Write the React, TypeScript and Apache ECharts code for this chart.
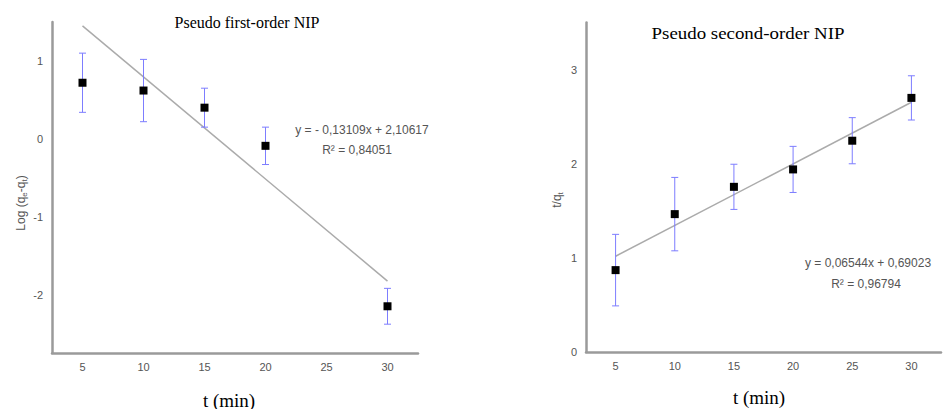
import React, { useEffect, useRef } from "react";
import * as echarts from "echarts";

// Pseudo first-order: log(qe - qt) vs time
const times1 = [5, 10, 15, 20, 30];
const logQ = [0.72, 0.62, 0.4, -0.09, -2.15];
const logErr = [0.38, 0.4, 0.25, 0.24, 0.23];
const fit1 = { slope: -0.13109, intercept: 2.10617, r2: "0,84051" };

// Pseudo second-order: t/qt vs time
const times2 = [5, 10, 15, 20, 25, 30];
const tq = [0.87, 1.465, 1.755, 1.94, 2.245, 2.7];
const tqErr = [0.38, 0.39, 0.24, 0.245, 0.245, 0.235];
const fit2 = { slope: 0.06544, intercept: 0.69023, r2: "0,96794" };

const fitRange = [5, 30];

const AXIS_GREY = "#9a9a9a";
const LABEL_GREY = "#555";
const ERR_BLUE = "#7d7dff";
const SANS = "Liberation Sans, Arial, sans-serif";
const SERIF = "Liberation Serif, Times New Roman, serif";

const fitLine = (f: { slope: number; intercept: number }) =>
  fitRange.map((x) => [x, f.slope * x + f.intercept]);

const errorData = (xs: number[], ys: number[], es: number[]) =>
  xs.map((x, i) => [x, ys[i] - es[i], ys[i] + es[i]]);

const renderError = (params: any, api: any) => {
  const x = api.value(0);
  const lo = api.coord([x, api.value(1)]);
  const hi = api.coord([x, api.value(2)]);
  const cap = 3.5;
  const style = { stroke: ERR_BLUE, lineWidth: 1, fill: "none" };
  return {
    type: "group",
    children: [
      { type: "line", shape: { x1: lo[0], y1: lo[1], x2: hi[0], y2: hi[1] }, style },
      { type: "line", shape: { x1: lo[0] - cap, y1: lo[1], x2: lo[0] + cap, y2: lo[1] }, style },
      { type: "line", shape: { x1: hi[0] - cap, y1: hi[1], x2: hi[0] + cap, y2: hi[1] }, style },
    ],
  };
};

const xAxisBase = (gridIndex: number) => ({
  type: "value",
  gridIndex,
  min: 2.5,
  max: 32.5,
  interval: 2.5,
  axisLine: { show: true, onZero: false, lineStyle: { color: AXIS_GREY, width: 2.5 } },
  axisTick: { show: false },
  splitLine: { show: false },
  axisLabel: {
    color: LABEL_GREY,
    fontFamily: SANS,
    fontSize: 11,
    margin: 8,
    formatter: (v: number) => (Math.abs(v % 5) < 1e-9 ? String(v) : ""),
  },
});

const yAxisBase = (gridIndex: number, min: number, max: number) => ({
  type: "value",
  gridIndex,
  min,
  max,
  interval: 0.25,
  axisLine: { show: true, onZero: false, lineStyle: { color: AXIS_GREY, width: 2.5 } },
  axisTick: { show: false },
  splitLine: { show: false },
  axisLabel: {
    color: LABEL_GREY,
    fontFamily: SANS,
    fontSize: 11,
    margin: 9,
    formatter: (v: number) => (Math.abs(v - Math.round(v)) < 1e-9 ? String(Math.round(v)) : ""),
  },
});

const text = (x: number, y: number, t: string, font: any, scaleX = 1) => ({
  type: "text",
  x,
  y,
  scaleX,
  style: { text: t, textAlign: "center", textVerticalAlign: "middle", ...font },
});

const eqFont = { fill: LABEL_GREY, fontFamily: SANS, fontSize: 12 };
const titleFont = { fill: "#000", fontFamily: SERIF, fontSize: 16 };
const xNameFont = { fill: "#000", fontFamily: SERIF, fontSize: 19 };

const subRich = {
  a: { fontFamily: SANS, fontSize: 12, fill: LABEL_GREY, lineHeight: 14, verticalAlign: "middle" },
  s: { fontFamily: SANS, fontSize: 8, fill: LABEL_GREY, lineHeight: 8, verticalAlign: "bottom" },
};

const fmt = (v: number) => v.toFixed(5).replace(".", ",");

const markerStyle = { color: "#000", opacity: 1 };

export default function App() {
  const ref = useRef<HTMLDivElement>(null);

  useEffect(() => {
    document.body.style.margin = "0";
    if (!ref.current) return;
    const chart = echarts.init(ref.current, undefined, { renderer: "svg" });

    const eq1 = `y = - ${fmt(Math.abs(fit1.slope))}x + ${fmt(fit1.intercept)}`;
    const eq2 = `y = ${fmt(fit2.slope)}x + ${fmt(fit2.intercept)}`;

    chart.setOption({
      animation: false,
      backgroundColor: "#fff",
      grid: [
        { left: 52, top: 22, width: 366, height: 331 },
        { left: 586, top: 22.6, width: 366.6, height: 329.4 },
      ],
      xAxis: [xAxisBase(0), xAxisBase(1)],
      yAxis: [yAxisBase(0, -2.75, 1.5), yAxisBase(1, 0, 3.5)],
      series: [
        {
          type: "line",
          xAxisIndex: 0,
          yAxisIndex: 0,
          data: fitLine(fit1),
          showSymbol: false,
          lineStyle: { color: "#ababab", width: 1.5 },
          z: 1,
        },
        {
          type: "custom",
          xAxisIndex: 0,
          yAxisIndex: 0,
          data: errorData(times1, logQ, logErr),
          renderItem: renderError,
          z: 2,
        },
        {
          type: "scatter",
          xAxisIndex: 0,
          yAxisIndex: 0,
          data: times1.map((x, i) => [x, logQ[i]]),
          symbol: "rect",
          symbolSize: 8,
          itemStyle: markerStyle,
          z: 3,
        },
        {
          type: "line",
          xAxisIndex: 1,
          yAxisIndex: 1,
          data: fitLine(fit2),
          showSymbol: false,
          lineStyle: { color: "#ababab", width: 1.5 },
          z: 1,
        },
        {
          type: "custom",
          xAxisIndex: 1,
          yAxisIndex: 1,
          data: errorData(times2, tq, tqErr),
          renderItem: renderError,
          z: 2,
        },
        {
          type: "scatter",
          xAxisIndex: 1,
          yAxisIndex: 1,
          data: times2.map((x, i) => [x, tq[i]]),
          symbol: "rect",
          symbolSize: 8,
          itemStyle: markerStyle,
          z: 3,
        },
      ],
      graphic: [
        text(247, 22, "Pseudo first-order NIP", titleFont),
        text(748, 34, "Pseudo second-order NIP", titleFont, 1.18),
        text(229, 400, "t (min)", xNameFont),
        text(759, 397, "t (min)", xNameFont),
        text(362, 130, eq1, eqFont),
        text(357, 150, `R² = ${fit1.r2}`, eqFont),
        text(868, 263, eq2, eqFont),
        text(866, 284, `R² = ${fit2.r2}`, eqFont),
        {
          type: "text",
          x: 21,
          y: 203,
          rotation: Math.PI / 2,
          style: {
            text: "{a|Log (q}{s|e}{a|-q}{s|t}{a|)}",
            rich: subRich,
            textAlign: "center",
            textVerticalAlign: "middle",
          },
        },
        {
          type: "text",
          x: 557,
          y: 200,
          rotation: Math.PI / 2,
          style: {
            text: "{a|t/q}{s|t}",
            rich: subRich,
            textAlign: "center",
            textVerticalAlign: "middle",
          },
        },
      ],
    });

    return () => chart.dispose();
  }, []);

  return <div ref={ref} style={{ width: 944, height: 409 }} />;
}
